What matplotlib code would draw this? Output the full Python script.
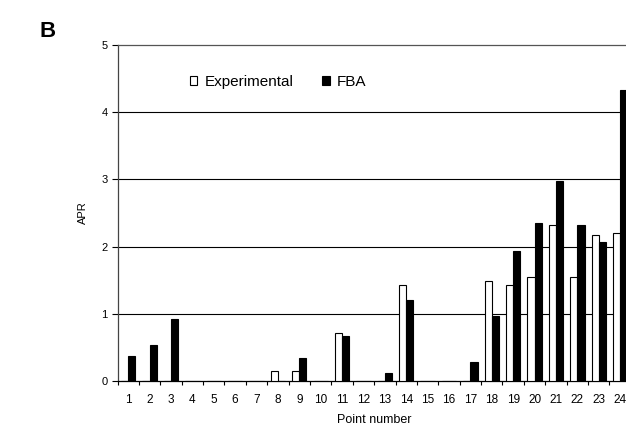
import matplotlib.pyplot as plt
import numpy as np

plt.rcParams['font.family'] = ['Liberation Sans', 'DejaVu Sans']

points = list(range(1, 25))
experimental = [0, 0, 0, 0, 0, 0, 0, 0.15, 0.15, 0, 0.72, 0, 0, 1.43, 0, 0, 0,
                1.49, 1.43, 1.55, 2.32, 1.55, 2.17, 2.20]
fba = [0.37, 0.53, 0.92, 0, 0, 0, 0, 0, 0.34, 0, 0.67, 0, 0.12, 1.20, 0, 0, 0.29,
       0.96, 1.93, 2.35, 2.97, 2.32, 2.07, 4.33]

fig = plt.figure(figsize=(6.26, 4.26), dpi=100)
ax = fig.add_axes([0.1877, 0.1056, 0.820, 0.789])

x = np.array(points)
w = 0.335
ax.bar(x - w / 2, experimental, w, color='white', edgecolor='black', linewidth=0.8,
       label='Experimental', zorder=3)
ax.bar(x + w / 2, fba, w, color='black', edgecolor='black', linewidth=0.8,
       label='FBA', zorder=3)

ax.set_xlim(0.5, 24.5)
ax.set_ylim(0, 5)
ax.set_yticks(range(0, 6))
for v in range(1, 5):
    ax.axhline(v, color='black', linewidth=0.8, zorder=1)

# ticks at category boundaries, labels at centres
ax.set_xticks(np.arange(0.5, 25, 1))
ax.set_xticklabels([])
ax.set_xticks(x, minor=True)
ax.set_xticklabels([str(p) for p in points], minor=True, fontsize=8.5)
ax.tick_params(axis='x', which='major', direction='out', length=3, width=0.8)
ax.tick_params(axis='x', which='minor', length=0, pad=9)
ax.tick_params(axis='y', direction='out', length=4, width=0.8, labelsize=8, pad=3)

ax.spines['right'].set_visible(False)
ax.spines['top'].set_color('#555555')
ax.spines['left'].set_color('#444444')
ax.spines['bottom'].set_color('black')
for s in ax.spines.values():
    s.set_linewidth(0.9)

ax.set_xlabel('Point number', fontsize=9, labelpad=6)
ax.set_ylabel('APR', fontsize=8, labelpad=10)

ax.legend(loc='upper left', bbox_to_anchor=(0.114, 0.952), ncol=2, frameon=False,
          fontsize=11, handlelength=0.5, handleheight=0.5, handletextpad=0.45,
          columnspacing=1.9)

fig.text(0.063, 0.912, 'B', fontsize=16, fontweight='bold')

fig.savefig('out.png', dpi=100)
